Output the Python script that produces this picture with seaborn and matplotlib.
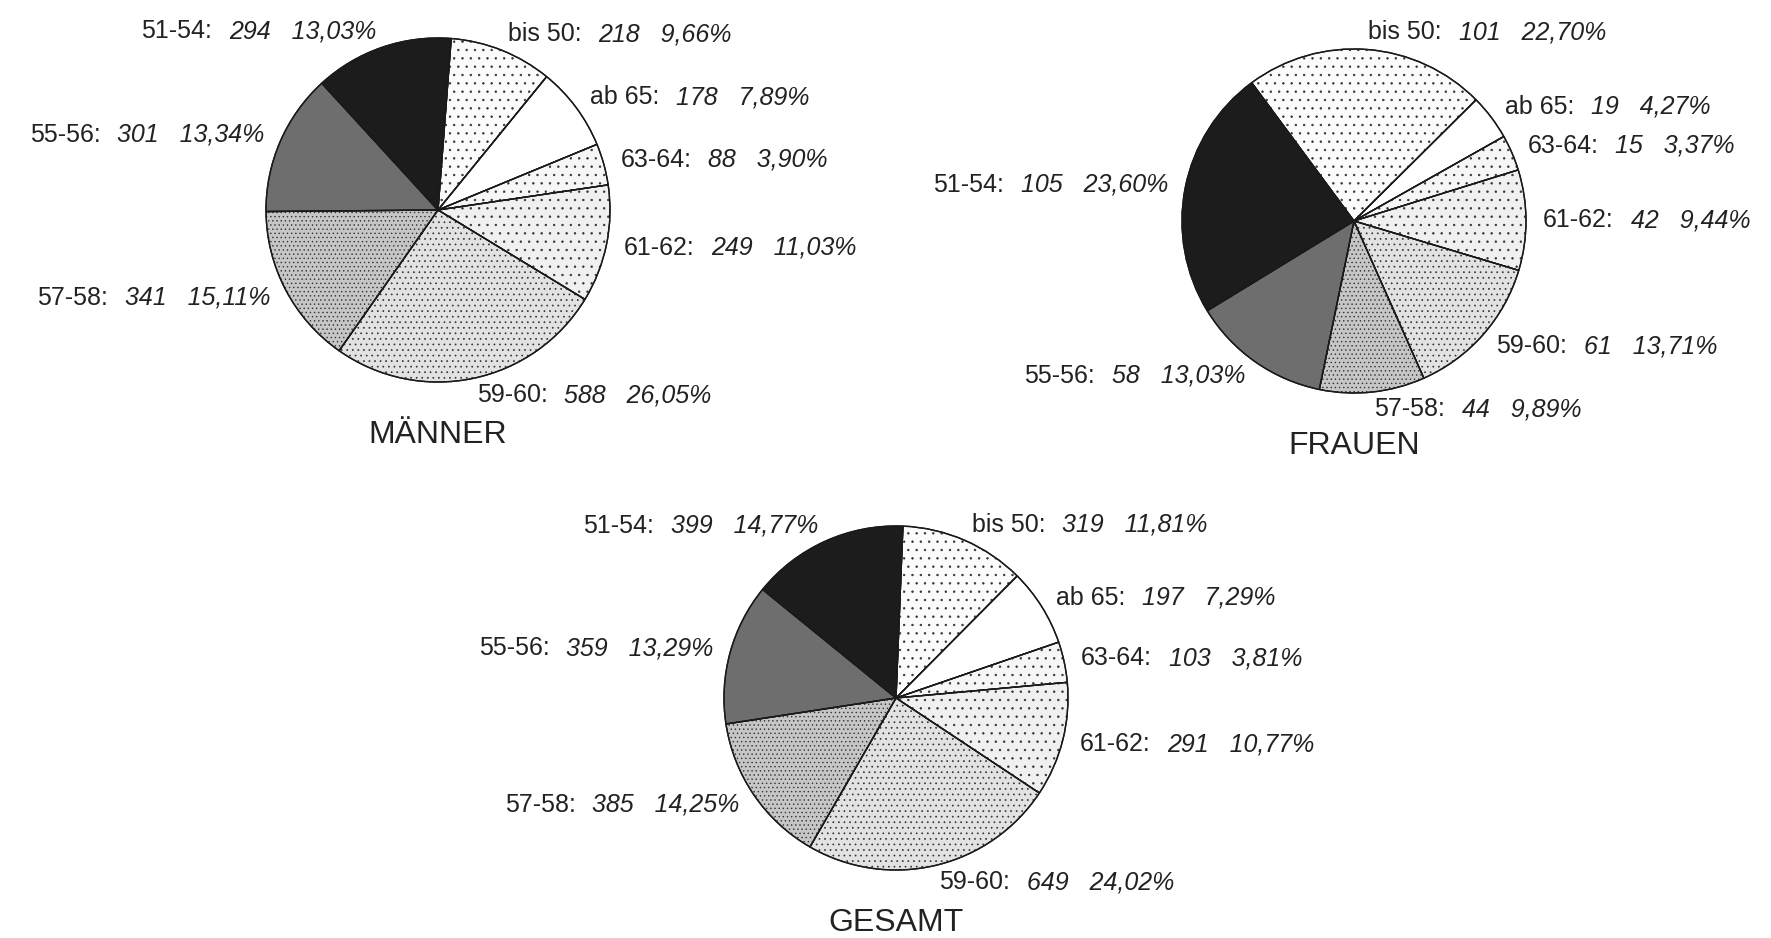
import numpy as np
import matplotlib
matplotlib.use("Agg")
import matplotlib.pyplot as plt
from matplotlib.patches import Wedge
import seaborn as sns

# age groups, clockwise from the top
groups = ["bis 50", "ab 65", "63-64", "61-62", "59-60", "57-58", "55-56", "51-54"]

maenner = [218, 178, 88, 249, 588, 341, 301, 294]
frauen = [101, 19, 15, 42, 61, 44, 58, 105]
gesamt = [319, 197, 103, 291, 649, 385, 359, 399]

titles = ["MÄNNER", "FRAUEN", "GESAMT"]

sns.set_theme(style="white")
plt.rcParams['font.family'] = ['Liberation Sans', 'DejaVu Sans']
plt.rcParams['hatch.linewidth'] = 0.5

faces = ["#fbfbfb", "#ffffff", "#f6f6f6", "#f0f0f0", "#e2e2e2", "#c6c6c6", "#6e6e6e", "#1c1c1c"]
hatches = ["..", "", "..", "..", "...", "....", "", ""]
txt = "#222222"

W, H = 1771, 938
R = 172
fig = plt.figure(figsize=(W / 100, H / 100), dpi=100)


def pie_axes(cx, cy):
    half = 1.5 * R
    return fig.add_axes([(cx - half) / W, (H - cy - half) / H, 2 * half / W, 2 * half / H])


def fmt_pct(v, total):
    return f"{100 * v / total:.2f}%".replace(".", ",")


def draw_pie(ax, counts, title, start):
    total = sum(counts)
    wedges, _ = ax.pie(counts, startangle=start, counterclock=False, colors=faces,
                       wedgeprops=dict(edgecolor="#1a1a1a", linewidth=1.0))
    # fine dot stipple on top of the grey fills
    for w, h in zip(wedges, hatches):
        if h:
            ax.add_patch(Wedge(w.center, w.r, w.theta1, w.theta2, facecolor="none",
                               edgecolor="#333333", linewidth=0, hatch=h, zorder=w.get_zorder() + 0.1))
    for w in wedges:
        ax.add_patch(Wedge(w.center, w.r, w.theta1, w.theta2, facecolor="none",
                           edgecolor="#1a1a1a", linewidth=1.0, zorder=w.get_zorder() + 0.2))
    ax.set_xlim(-1.5, 1.5)
    ax.set_ylim(-1.5, 1.5)
    ax.set_axis_off()

    for w, name, n in zip(wedges, groups, counts):
        ang = np.deg2rad((w.theta1 + w.theta2) / 2)
        x, y = 1.1 * np.cos(ang), 1.1 * np.sin(ang)
        italic = f"{n}   {fmt_pct(n, total)}"
        if np.cos(ang) >= 0:
            t = ax.text(x, y, name + ":", ha="left", va="center", fontsize=18, color=txt)
            ax.annotate(italic, xy=(1, 0.5), xycoords=t, xytext=(12, 0), textcoords="offset points",
                        ha="left", va="center", style="italic", fontsize=18, color=txt)
        else:
            t = ax.text(x, y, italic, ha="right", va="center", style="italic", fontsize=18, color=txt)
            ax.annotate(name + ":", xy=(0, 0.5), xycoords=t, xytext=(-12, 0), textcoords="offset points",
                        ha="right", va="center", fontsize=18, color=txt)

    ax.text(0, -1.31, title, ha="center", va="center", fontsize=23, color=txt)


draw_pie(pie_axes(438, 210), maenner, titles[0], 85.6)
draw_pie(pie_axes(1354, 221), frauen, titles[1], 126.5)
draw_pie(pie_axes(896, 698), gesamt, titles[2], 87.7)

plt.savefig("out.png", dpi=100)
